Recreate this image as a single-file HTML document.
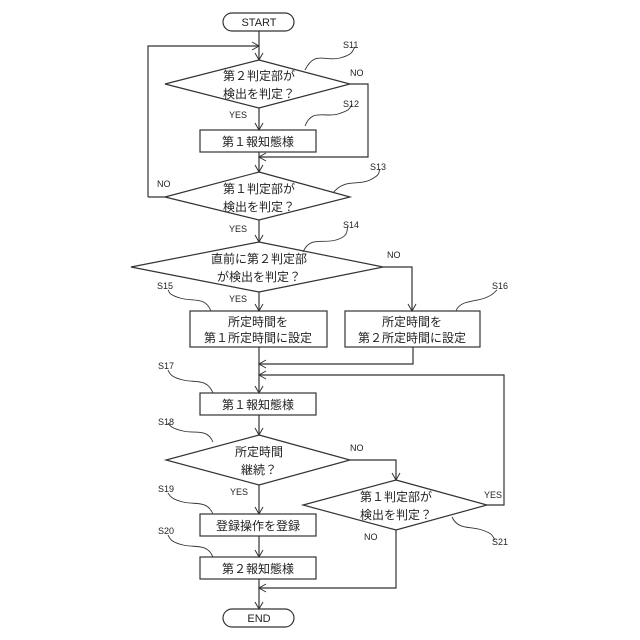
<!DOCTYPE html><html><head><style>body{margin:0;background:#fff}svg{display:block}text{font-family:"Liberation Sans","Noto Sans CJK JP",sans-serif;fill:#222}</style></head><body>
<svg width="640" height="640" viewBox="0 0 640 640" xmlns="http://www.w3.org/2000/svg">
<defs><marker id="a" markerWidth="10" markerHeight="10" refX="8" refY="5" orient="auto" markerUnits="userSpaceOnUse"><path d="M1,1 L8,5 L1,9" fill="none" stroke="#333" stroke-width="1"/></marker></defs>
<g fill="none" stroke="#333" stroke-width="1.2">
<rect x="223" y="13" width="71" height="18" rx="9" fill="#fff"/>
<rect x="223" y="609" width="71" height="18" rx="9" fill="#fff"/>
<path d="M259,31 V60" marker-end="url(#a)"/>
<path d="M148,197 H165 M148,197 V46 H259" marker-end="url(#a)"/>
<polygon points="259,60 350,84 259,108 165,84"/>
<path d="M350,84 H368 V157 H259" marker-end="url(#a)"/>
<path d="M259,108 V130" marker-end="url(#a)"/>
<rect x="200" y="130" width="116" height="22"/>
<path d="M259,152 V172" marker-end="url(#a)"/>
<polygon points="259,172 350,197 259,220 165,197"/>
<path d="M259,220 V242" marker-end="url(#a)"/>
<polygon points="259,242 383,267 259,292 131,267"/>
<path d="M383,267 H412 V311" marker-end="url(#a)"/>
<path d="M259,292 V311" marker-end="url(#a)"/>
<rect x="190" y="311" width="137" height="36"/>
<rect x="345" y="311" width="135" height="36"/>
<path d="M413,347 V364 H259" marker-end="url(#a)"/>
<path d="M487,505 H504 V375 H259" marker-end="url(#a)"/>
<path d="M259,347 V393" marker-end="url(#a)"/>
<rect x="200" y="393" width="116" height="22"/>
<path d="M259,415 V435" marker-end="url(#a)"/>
<polygon points="259,435 350,460 259,485 166,460"/>
<path d="M350,460 H396 V480" marker-end="url(#a)"/>
<polygon points="396,480 487,505 396,530 303,505"/>
<path d="M259,485 V514" marker-end="url(#a)"/>
<rect x="200" y="514" width="116" height="22"/>
<path d="M259,536 V557" marker-end="url(#a)"/>
<rect x="200" y="557" width="116" height="22"/>
<path d="M396,530 V588 H259" marker-end="url(#a)"/>
<path d="M259,579 V609" marker-end="url(#a)"/>
<g stroke-width="0.9">
<path d="M305,70 C315,50 325,62 340,58 S352,50 355,47"/>
<path d="M305,126 C312,108 325,118 338,114 S350,108 352,104"/>
<path d="M333,193 C345,178 358,186 370,180 S378,172 380,169"/>
<path d="M303,252 C310,236 322,244 336,240 S346,230 348,226"/>
<path d="M211,311 C205,296 193,302 180,298 S170,292 168,290"/>
<path d="M456,311 C460,300 475,302 485,298 S494,292 497,290"/>
<path d="M213,393 C207,378 195,383 183,380 S170,374 168,370"/>
<path d="M213,442 C207,428 195,434 183,431 S170,426 168,423"/>
<path d="M213,514 C207,500 195,505 183,502 S170,496 168,493"/>
<path d="M213,557 C207,543 195,548 183,545 S170,539 168,535"/>
<path d="M452,517 C458,530 470,526 482,530 S492,536 495,540"/>
</g></g>
<g font-size="12" text-anchor="middle">
<text x="259" y="26" font-size="11">START</text>
<text x="259" y="622" font-size="11">END</text>
<text x="259" y="80">第２判定部が</text><text x="259" y="98">検出を判定？</text>
<text x="258" y="146">第１報知態様</text>
<text x="259" y="193">第１判定部が</text><text x="259" y="211">検出を判定？</text>
<text x="259" y="263">直前に第２判定部</text><text x="259" y="281">が検出を判定？</text>
<text x="258" y="326">所定時間を</text><text x="258" y="342">第１所定時間に設定</text>
<text x="412" y="326">所定時間を</text><text x="412" y="342">第２所定時間に設定</text>
<text x="258" y="409">第１報知態様</text>
<text x="259" y="456">所定時間</text><text x="259" y="474">継続？</text>
<text x="396" y="501">第１判定部が</text><text x="396" y="519">検出を判定？</text>
<text x="258" y="530">登録操作を登録</text>
<text x="258" y="573">第２報知態様</text>
</g>
<g font-size="9">
<text x="343" y="48">S11</text><text x="343" y="107">S12</text><text x="370" y="170">S13</text><text x="343" y="228">S14</text>
<text x="157" y="289">S15</text><text x="492" y="289">S16</text><text x="158" y="369">S17</text><text x="158" y="425">S18</text>
<text x="158" y="492">S19</text><text x="158" y="534">S20</text><text x="492" y="545">S21</text>
<text x="350" y="76">NO</text><text x="229" y="118">YES</text><text x="157" y="187">NO</text><text x="229" y="232">YES</text>
<text x="387" y="258">NO</text><text x="229" y="302">YES</text><text x="350" y="451">NO</text><text x="230" y="495">YES</text>
<text x="484" y="498">YES</text><text x="364" y="540">NO</text>
</g>
</svg></body></html>
